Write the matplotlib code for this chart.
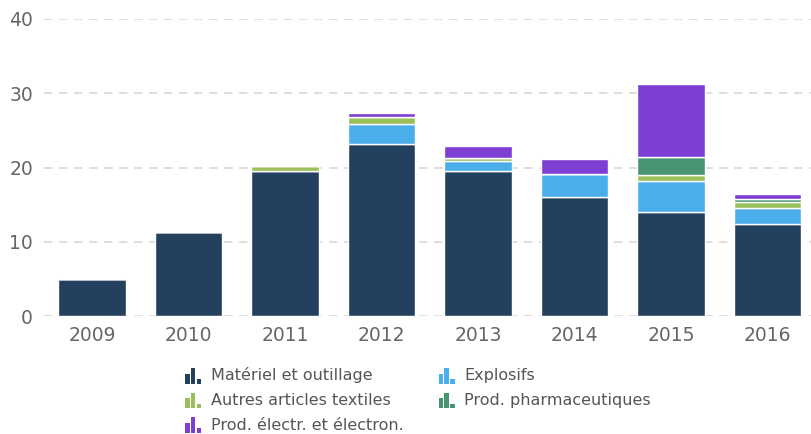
import numpy as np
import matplotlib
matplotlib.use("Agg")
import matplotlib.pyplot as plt
from matplotlib.patches import Rectangle
from matplotlib.legend_handler import HandlerBase

years = ["2009", "2010", "2011", "2012", "2013", "2014", "2015", "2016"]
materiel = [5.0, 11.3, 19.5, 23.2, 19.5, 16.0, 14.0, 12.4]
explosifs = [0.0, 0.0, 0.0, 2.6, 1.4, 3.1, 4.2, 2.2]
textiles = [0.0, 0.0, 0.7, 1.0, 0.4, 0.0, 0.8, 0.7]
pharma = [0.0, 0.0, 0.0, 0.0, 0.0, 0.0, 2.4, 0.5]
electr = [0.0, 0.0, 0.0, 0.5, 1.6, 2.0, 9.9, 0.6]

series = [
    ("Matériel et outillage", materiel, "#24405f"),
    ("Explosifs", explosifs, "#4aaeea"),
    ("Autres articles textiles", textiles, "#9bbf5a"),
    ("Prod. pharmaceutiques", pharma, "#479572"),
    ("Prod. électr. et électron.", electr, "#7e3ed4"),
]


class BarIconHandler(HandlerBase):
    # small three-bar icon like the original legend
    def create_artists(self, legend, orig_handle, xdescent, ydescent,
                       width, height, fontsize, trans):
        col = orig_handle.get_facecolor()
        w = width * 0.29
        gap = width * 0.065
        y0 = -ydescent - 0.2 * fontsize
        arts = []
        for i, h in enumerate([0.62, 0.98, 0.28]):
            r = Rectangle((-xdescent + i * (w + gap), y0), w, fontsize * h,
                          facecolor=col, edgecolor="none", transform=trans)
            arts.append(r)
        return arts


plt.rcParams["font.family"] = ["DejaVu Sans"]
fig = plt.figure(figsize=(8.11, 4.34), dpi=100)
ax = fig.add_axes([44 / 811, 1 - 316 / 434, 1 - 44 / 811, (316 - 19) / 434])

x = np.arange(len(years))
bottom = np.zeros(len(years))
handles = {}
for name, vals, color in series:
    vals = np.array(vals)
    bars = ax.bar(x, vals, width=0.7, bottom=bottom, color=color,
                  edgecolor="white", linewidth=1.0, zorder=3)
    handles[name] = bars.patches[0]
    bottom += vals

ax.set_xlim(-0.5, 7.45)
ax.set_ylim(0, 40)
ax.set_yticks([0, 10, 20, 30, 40])
ax.set_xticks(x, years)
ax.grid(axis="y", color="#d8d8d8", linestyle=(0, (5, 4)), linewidth=1.2, zorder=0)
for s in ax.spines.values():
    s.set_visible(False)
ax.tick_params(axis="both", length=0, labelsize=13.5, colors="#666666")
ax.tick_params(axis="y", pad=8)
ax.tick_params(axis="x", pad=7)

order = ["Matériel et outillage", "Autres articles textiles",
         "Prod. électr. et électron.", "Explosifs", "Prod. pharmaceutiques"]
leg = fig.legend([handles[n] for n in order], order, ncol=2,
                 loc="upper center", bbox_to_anchor=(418 / 811, 1 - 353 / 434),
                 frameon=False, fontsize=11.5, handler_map={Rectangle: BarIconHandler()},
                 handlelength=1.0, handletextpad=0.6, columnspacing=2.2,
                 labelspacing=0.6, labelcolor="#555555")

fig.savefig("out.png", dpi=100)
